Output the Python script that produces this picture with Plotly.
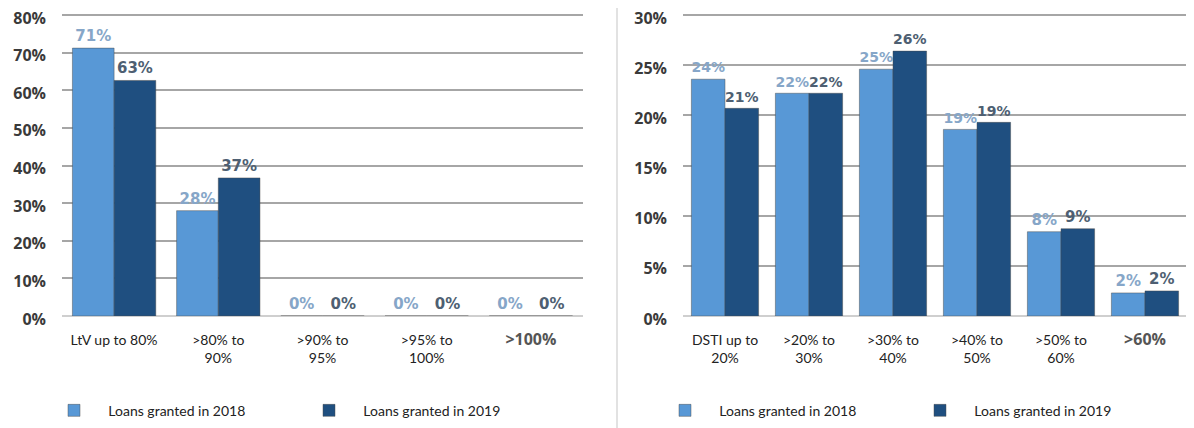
import plotly.graph_objects as go

# LtV panel
ltv_cats = ["LtV up to 80%", ">80% to<br>90%", ">90% to<br>95%", ">95% to<br>100%",
            "<b><span style='font-family:Open Sans;font-size:16px;color:#555'>>100%</span></b>"]
ltv_2018 = [71.2, 28.0, 0.0, 0.0, 0.0]
ltv_2019 = [62.6, 36.7, 0.0, 0.0, 0.0]
ltv_ticks = [0, 10, 20, 30, 40, 50, 60, 70, 80]

# DSTI panel
dsti_cats = ["DSTI up to<br>20%", ">20% to<br>30%", ">30% to<br>40%", ">40% to<br>50%",
             ">50% to<br>60%", "<b><span style='font-family:Open Sans;font-size:16px;color:#555'>>60%</span></b>"]
dsti_2018 = [23.6, 22.2, 24.6, 18.6, 8.4, 2.3]
dsti_2019 = [20.7, 22.2, 26.4, 19.3, 8.7, 2.5]
dsti_ticks = [0, 5, 10, 15, 20, 25, 30]

c18 = "#5898D6"
c19 = "#1F4F80"
lbl18 = "#86A6C8"
lbl19 = "#4E5F72"
nb = "\u00a0" * 4

# the page body adds an 8px offset, so positions below are shifted back by it
off = 8
W, H = 1194, 428
y0px, ytop = 316 - off, 15 - off   # pixel rows of 0% and of the top gridline
pad = 1.006  # small headroom so the top gridline is kept
ydom = [1 - y0px / H, 1 - (y0px - (y0px - ytop) * pad) / H]

fig = go.Figure()

def add_pair(cats, v18, v19, xa, ya, leg):
    fig.add_trace(go.Bar(x=cats, y=v18, name=nb + "Loans granted in 2018", marker=dict(color=c18, line=dict(color="rgba(70,70,70,0.45)", width=1)),
                         text=[f"{v:.0f}%" for v in v18], textposition="outside", cliponaxis=False,
                         textfont=dict(family="DejaVu Sans", size=15, color=lbl18, weight="bold"),
                         xaxis=xa, yaxis=ya, legend=leg))
    fig.add_trace(go.Bar(x=cats, y=v19, name=nb + "Loans granted in 2019", marker=dict(color=c19, line=dict(color="rgba(70,70,70,0.45)", width=1)),
                         text=[f"{v:.0f}%" for v in v19], textposition="outside", cliponaxis=False,
                         textfont=dict(family="DejaVu Sans", size=15, color=lbl19, weight="bold"),
                         xaxis=xa, yaxis=ya, legend=leg))

add_pair(ltv_cats, ltv_2018, ltv_2019, "x", "y", "legend")
add_pair(dsti_cats, dsti_2018, dsti_2019, "x2", "y2", "legend2")

xcommon = dict(showgrid=False, ticks="", ticklabelstandoff=14, automargin=False,
               tickfont=dict(family="Lato", size=14, color="#222"), showline=False)
ycommon = dict(showgrid=True, gridcolor="#A6A6A6", gridwidth=1.5, automargin=False,
               ticklabeloverflow="allow", ticklabelshift=3,
               tickfont=dict(family="Open Sans", size=16, color="#3A3A3A", weight="bold"),
               zeroline=True, zerolinecolor="#CFCFCF", zerolinewidth=2, ticks="", ticklabelstandoff=15)

legcommon = dict(orientation="h", yanchor="middle", y=0.059, xanchor="left",
                 font=dict(family="Lato", size=14, color="#222"), entrywidth=210,
                 bgcolor="rgba(0,0,0,0)", itemclick=False)

fig.update_layout(
    width=W, height=H, margin=dict(l=0, r=0, t=0, b=0),
    paper_bgcolor="white", plot_bgcolor="white",
    barmode="group", bargap=0.2, bargroupgap=0,
    xaxis=dict(domain=[(62 - off) / W, (583 - off) / W], anchor="y", **xcommon),
    yaxis=dict(domain=ydom, range=[0, ltv_ticks[-1] * pad], tickvals=ltv_ticks,
               ticktext=[f"{t}%" for t in ltv_ticks], anchor="x", **ycommon),
    xaxis2=dict(domain=[(683 - off) / W, (1187 - off) / W], anchor="y2", **xcommon),
    yaxis2=dict(domain=ydom, range=[0, dsti_ticks[-1] * pad], tickvals=dsti_ticks,
                ticktext=[f"{t}%" for t in dsti_ticks], anchor="x2", **ycommon),
    legend=dict(x=46 / W, **legcommon),
    legend2=dict(x=657 / W, **legcommon),
    showlegend=True,
    shapes=[dict(type="line", xref="paper", yref="paper", x0=(617 - off) / W, x1=(617 - off) / W, y0=0, y1=1,
                 line=dict(color="#D9D9D9", width=1.5))],
)

fig.write_html("out.html")
